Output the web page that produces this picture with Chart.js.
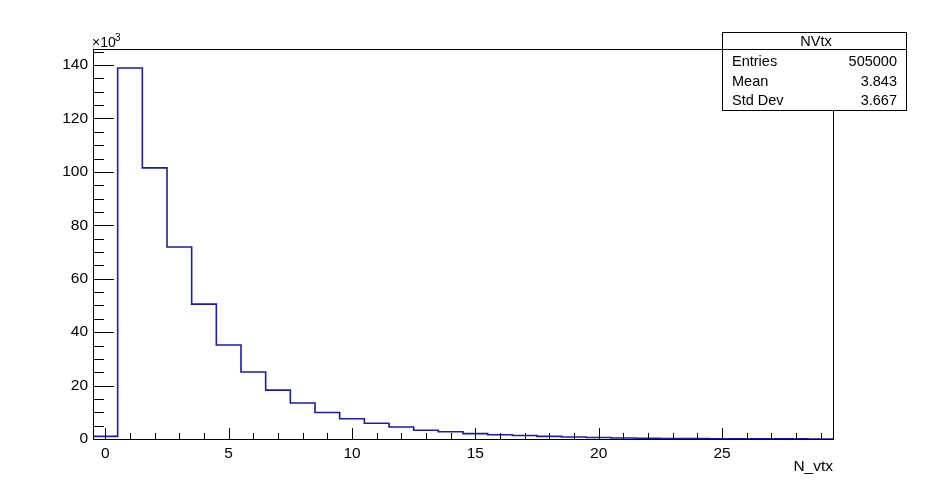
<!DOCTYPE html>
<html>
<head>
<meta charset="utf-8">
<script src="https://cdn.jsdelivr.net/npm/chart.js@4"></script>
<style>
  body { margin: 0; background: #fff; }
  #wrap { width: 926px; height: 489px; }
</style>
</head>
<body>
<div id="wrap"><canvas id="c" width="926" height="489"></canvas></div>
<script>
// histogram bin contents (x10^3), bins centred on 0..29
const binCenters = [0,1,2,3,4,5,6,7,8,9,10,11,12,13,14,15,16,17,18,19,20,21,22,23,24,25,26,27,28,29];
const binValues = [1.0,138.9,101.5,71.9,50.5,35.2,25.1,18.3,13.5,9.9,7.6,5.9,4.5,3.3,2.7,2.0,1.6,1.3,1.0,0.75,0.55,0.4,0.3,0.2,0.15,0.1,0.07,0.05,0.03,0.02];
const xTicks = [0,5,10,15,20,25];
const yTicks = [0,20,40,60,80,100,120,140];
const statsLabels = ['Entries','Mean','Std Dev'];
const statsValues = ['505000','3.843','3.667'];

const FONT = 'Liberation Sans, Arial, sans-serif';

// build step outline from bin edges
const points = binCenters.map((c, i) => ({ x: c - 0.5, y: binValues[i] }));
points.push({ x: binCenters[binCenters.length - 1] + 0.5, y: binValues[binValues.length - 1] });

// draws the ROOT-style frame, inward ticks and stats box
const rootFrame = {
    id: 'rootFrame',
    afterDraw(chart) {
        const ctx = chart.ctx;
        const a = chart.chartArea;
        const xs = chart.scales.x, ys = chart.scales.y;
        ctx.save();
        ctx.strokeStyle = '#000';
        ctx.lineWidth = 1;
        ctx.strokeRect(Math.round(a.left) + 0.5, Math.round(a.top) + 0.5,
            Math.round(a.right - a.left), Math.round(a.bottom - a.top));

        ctx.beginPath();
        // x ticks
        for (let v = 0; v <= 29; v++) {
            const px = Math.round(xs.getPixelForValue(v)) + 0.5;
            const len = v % 5 === 0 ? 11 : 6;
            ctx.moveTo(px, a.bottom);
            ctx.lineTo(px, a.bottom - len);
        }
        // y ticks
        for (let v = 0; v <= 145; v += 5) {
            const py = Math.round(ys.getPixelForValue(v)) + 0.5;
            const len = v % 20 === 0 ? 21 : 11;
            ctx.moveTo(a.left, py);
            ctx.lineTo(a.left + len, py);
        }
        ctx.stroke();

        // exponent label
        ctx.fillStyle = '#000';
        ctx.font = '14px ' + FONT;
        ctx.textBaseline = 'alphabetic';
        ctx.textAlign = 'left';
        ctx.fillText('\u00d710', a.left - 1, a.top - 2);
        ctx.font = '10px ' + FONT;
        ctx.fillText('3', a.left + 22, a.top - 8);

        // axis title
        ctx.font = '15.5px ' + FONT;
        ctx.textAlign = 'right';
        ctx.fillText('N_vtx', a.right, 471);

        // stats box
        const bx = 722.5, by = 32.5, bw = 184, bh = 78;
        ctx.fillStyle = '#fff';
        ctx.fillRect(bx, by, bw, bh);
        ctx.strokeRect(bx, by, bw, bh);
        ctx.beginPath();
        ctx.moveTo(bx, 49.5);
        ctx.lineTo(bx + bw, 49.5);
        ctx.stroke();
        ctx.fillStyle = '#000';
        ctx.font = '14.5px ' + FONT;
        ctx.textAlign = 'center';
        ctx.textBaseline = 'middle';
        ctx.fillText('NVtx', 816, 41.5);
        statsLabels.forEach((lab, i) => {
            const y = 62 + i * 19.5;
            ctx.textAlign = 'left';
            ctx.fillText(lab, 732, y);
            ctx.textAlign = 'right';
            ctx.fillText(statsValues[i], 897, y);
        });
        ctx.restore();
    }
};

new Chart(document.getElementById('c'), {
    type: 'line',
    data: {
        datasets: [{
            data: points,
            stepped: 'before',
            borderColor: '#1c1ca0',
            borderWidth: 1.6,
            pointRadius: 0,
            fill: false
        }]
    },
    options: {
        responsive: false,
        animation: false,
        layout: { padding: { top: 49, right: 93, left: 0, bottom: 0 } },
        plugins: { legend: { display: false }, tooltip: { enabled: false } },
        scales: {
            x: {
                type: 'linear',
                min: -0.5,
                max: 29.5,
                afterBuildTicks: s => { s.ticks = xTicks.map(v => ({ value: v })); },
                afterFit: s => { s.height = 50; },
                grid: { display: false, drawTicks: false },
                border: { display: false },
                ticks: { color: '#000', font: { family: FONT, size: 15.5 }, padding: 5, maxRotation: 0 }
            },
            y: {
                min: 0,
                max: 146,
                afterBuildTicks: s => { s.ticks = yTicks.map(v => ({ value: v })); },
                afterFit: s => { s.width = 93; },
                grid: { display: false, drawTicks: false },
                border: { display: false },
                ticks: { color: '#000', font: { family: FONT, size: 15.5 }, padding: 5 }
            }
        }
    },
    plugins: [rootFrame]
});
</script>
</body>
</html>
